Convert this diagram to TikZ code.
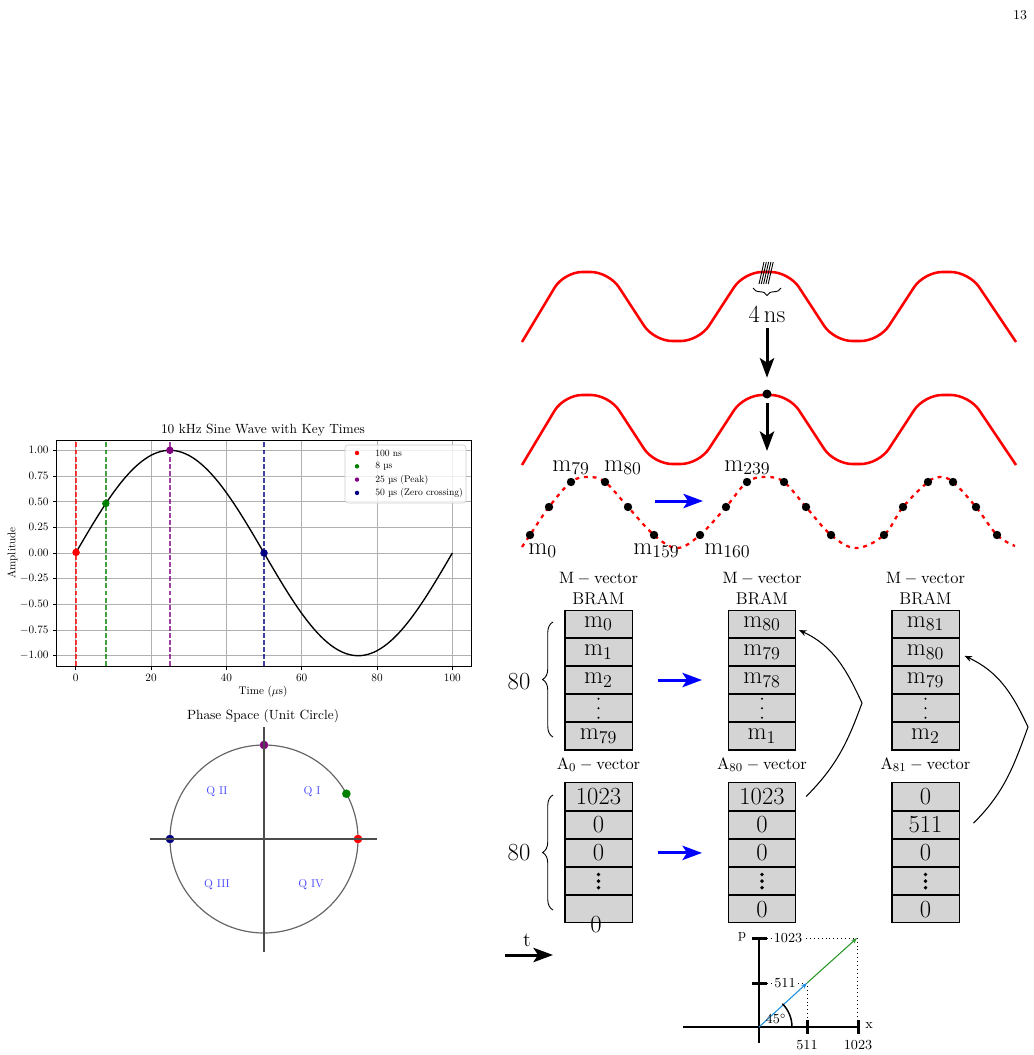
\documentclass[tikz,border=0pt]{standalone}
\usepackage{amsmath,amssymb}
\usepackage{xcolor}
\usepackage{tikz}
\usetikzlibrary{positioning,arrows.meta,decorations.pathreplacing,calc}

\definecolor{mplgreen}{RGB}{0,128,0}
\definecolor{mplpurple}{RGB}{128,0,128}
\definecolor{mplnavy}{RGB}{0,0,128}
\definecolor{vecblue}{RGB}{25,140,220}
\definecolor{vecgreen}{RGB}{40,150,40}
% matplotlib text: 10pt design, scaled down
\newcommand{\mpl}[2]{\scalebox{#1}{#2}}

\begin{document}
\begin{tikzpicture}[x=0.6667pt, y=0.6667pt,
    every node/.style={font=\fontsize{11.4}{14}\selectfont},
    cell/.style={draw, line width=0.7pt, fill=black!17, minimum width=44.7pt, minimum height=18.1pt, inner sep=0pt, font=\fontsize{16.4}{19}\selectfont},
    coltitle/.style={align=center, inner sep=1pt},
    bigtxt/.style={font=\fontsize{16.4}{19}\selectfont},
    smalltxt/.style={font=\fontsize{9.2}{11}\selectfont, inner sep=1pt},
    wave/.style={red, line width=1.7pt, rounded corners=12pt},
    dashwave/.style={red, line width=1.5pt, dash pattern=on 2.6pt off 3.2pt},
    peakdot/.style={circle, fill=black, inner sep=0pt, minimum size=6pt},
    downarrow/.style={-{Stealth[length=13pt,width=9.5pt,inset=3pt]}, line width=2pt},
    bluearrow/.style={downarrow, blue},
    backarrow/.style={-{Stealth[length=5pt,width=4pt]}, line width=0.7pt},
    vbrace/.style={decorate, decoration={brace, amplitude=7pt}, line width=0.6pt},
    vecarrow/.style={-{Stealth[length=4pt,width=3pt]}, line width=0.7pt},
    gridline/.style={black!31, line width=0.6pt},
    keyline/.style={line width=0.9pt, dash pattern=on 3.3pt off 1.4pt, opacity=0.75},
    tickmark/.style={line width=0.6pt},
    mpltxt/.style={font=\fontsize{10}{12}\selectfont, inner sep=0pt},
    quadtxt/.style={mpltxt, text=blue!70},
]
\useasboundingbox (0,0) rectangle (1034,-1055);

\node[font=\fontsize{9}{11}\selectfont] (pagenum) at (1020,-15) {13};

% ---------------- sine wave plot
\begin{scope}[shift={(75.7,-553)}, x=2.511pt, y=68.47pt]
  \foreach \t in {0,20,...,100} \draw[gridline] (\t,-1.1) -- (\t,1.1);
  \foreach \a in {-1,-0.75,-0.5,-0.25,0,0.25,0.5,0.75,1} \draw[gridline] (-5,\a) -- (105,\a);
  \foreach \t/\c in {0.1/red, 8/mplgreen, 25/mplpurple, 50/mplnavy}
    \draw[keyline, \c] (\t,-1.1) -- (\t,1.1);
  \draw[line width=0.9pt] plot[domain=0:100, samples=121] (\x,{sin(3.6*\x)});
  \foreach \t/\c in {0.1/red, 8/mplgreen, 25/mplpurple, 50/mplnavy}
    \fill[\c] (\t,{sin(3.6*\t)}) circle[radius=2.5pt];
  \draw[line width=0.6pt] (-5,-1.1) rectangle (105,1.1);
  \foreach \t in {0,20,...,100} {
    \draw[tickmark] (\t,-1.1) -- ++(0pt,-2.6pt);
    \node[mpltxt, anchor=north, yshift=-5pt] (xt\t) at (\t,-1.1) {\mpl{0.75}{$\t$}};
  }
  \foreach \a/\lab [count=\i] in {1/1.00, 0.75/0.75, 0.5/0.50, 0.25/0.25, 0/0.00, -0.25/-0.25, -0.5/-0.50, -0.75/-0.75, -1/-1.00} {
    \draw[tickmark] (-5,\a) -- ++(-2.6pt,0pt);
    \node[mpltxt, anchor=east, xshift=-5.3pt] (yt\i) at (-5,\a) {\mpl{0.75}{$\lab$}};
  }
\end{scope}
\node[mpltxt] (sinetitle) at (263,-430.5) {\mpl{0.89}{10 kHz Sine Wave with Key Times}};
\node[mpltxt] (timelab) at (263,-691.5) {\mpl{0.74}{Time ($\mu$s)}};
\node[mpltxt, rotate=90] (amplab) at (12.5,-553) {\mpl{0.74}{Amplitude}};

% legend
\draw[rounded corners=2pt, draw=black!20, fill=white, fill opacity=0.8] (345,-445) rectangle (466,-503);
\foreach \c/\txt [count=\i] in {red/100 ns, mplgreen/8 \textmu s, mplpurple/25 \textmu s (Peak), mplnavy/50 \textmu s (Zero crossing)} {
  \fill[\c] (357,{-453-13.3*(\i-1)}) circle[radius=2.2];
  \node[mpltxt, anchor=west] (leg\i) at (375,{-453-13.3*(\i-1)}) {\mpl{0.64}{\txt}};
}

% ---------------- unit circle
\node[mpltxt] (circtitle) at (263,-716.5) {\mpl{0.89}{Phase Space (Unit Circle)}};
\begin{scope}[shift={(264,-839)}]
  \draw[black!60, line width=0.8pt] (0,0) circle[radius=94];
  \fill[red] (0:94) circle[radius=4.3];
  \fill[mplgreen] (28.8:94) circle[radius=4.3];
  \fill[mplpurple] (90:94) circle[radius=4.3];
  \fill[mplnavy] (180:94) circle[radius=4.3];
  \draw[black!70, line width=0.8pt] (-114,0) -- (113,0);
  \draw[black!70, line width=0.8pt] (0,112) -- (0,-113);
  \node[quadtxt] (q1) at (48,47) {\mpl{0.76}{Q I}};
  \node[quadtxt] (q2) at (-47,47) {\mpl{0.76}{Q II}};
  \node[quadtxt] (q3) at (-47,-46) {\mpl{0.76}{Q III}};
  \node[quadtxt] (q4) at (47,-46) {\mpl{0.76}{Q IV}};
\end{scope}

% ---------------- carrier waves
\foreach \dy in {0,-123}
  \draw[wave, shift={(0,\dy)}] (522,-342) -- (564,-272) -- (609,-272) -- (654,-341) -- (699,-341)
    -- (744,-272) -- (789,-272) -- (834,-341) -- (879,-341) -- (924,-272) -- (969,-272) -- (1016,-342);

% 4 ns samples
\foreach \i in {0,...,4} \draw[line width=0.6pt] (759+2.3*\i,-284) -- (764+2.3*\i,-262);
\draw[decorate, decoration={brace, mirror, amplitude=5pt}, line width=0.6pt] (753,-288) -- (781,-288);
\node[bigtxt] (tns) at (767,-314) {4\,ns};
\node[peakdot] (pk) at (767,-394) {};
\coordinate (s239) at (767,-451);
\draw[downarrow, shorten >=7.7pt] (tns) -- (pk);
\draw[downarrow, shorten <=3pt] (pk) -- (s239);

% sampled wave
\draw[dashwave] plot[smooth, tension=0.6] coordinates {(522,-547) (530,-535) (549,-507) (571,-482) (588,-477)
  (605,-482) (628,-507) (654,-535) (677,-548) (700,-535) (726,-507) (747,-482) (766,-477) (784,-482)
  (806,-507) (831,-535) (856,-548) (884,-535) (903,-507) (928,-482) (940,-477) (953,-482) (976,-507)
  (997,-535) (1015,-546)};
\foreach \p in {(530,-535),(549,-507),(571,-482),(605,-482),(628,-507),(654,-535),
                (700,-535),(726,-507),(747,-482),(784,-482),(806,-507),(831,-535),
                (884,-535),(903,-507),(928,-482),(953,-482),(976,-507),(997,-535)}
  \fill \p circle[radius=4.2];
\node[bigtxt, anchor=base west, inner sep=0pt] (lab0) at (528,-554) {m$_{0}$};
\node[bigtxt, anchor=base west, inner sep=0pt] (lab79) at (552,-471) {m$_{79}$};
\node[bigtxt, anchor=base west, inner sep=0pt] (lab80) at (604,-471) {m$_{80}$};
\node[bigtxt, anchor=base west, inner sep=0pt] (lab239) at (724,-471) {m$_{239}$};
\node[bigtxt, anchor=base west, inner sep=0pt] (lab159) at (633,-554) {m$_{159}$};
\node[bigtxt, anchor=base west, inner sep=0pt] (lab160) at (704,-554) {m$_{160}$};
\coordinate (wa) at (655,-501);
\coordinate (wb) at (703,-501);
\draw[bluearrow] (wa) -- (wb);

% ---------------- M-vector BRAM columns
\foreach \n/\cx/\ra/\rb/\rc/\re in {0/598.5/0/1/2/79, 80/762/80/79/78/1, 81/925.5/81/80/79/2} {
  \node[cell] (M\n-1) at (\cx,-623.6) {m$_{\ra}$};
  \node[cell, below=0pt of M\n-1] (M\n-2) {m$_{\rb}$};
  \node[cell, below=0pt of M\n-2] (M\n-3) {m$_{\rc}$};
  \node[cell, below=0pt of M\n-3] (M\n-4) {};
  \node[cell, below=0pt of M\n-4] (M\n-5) {m$_{\re}$};
  \node[coltitle, above=2pt of M\n-1] (Mt\n) {$\mathrm{M-vector}$\\BRAM};
  \foreach \k in {-1,0,1} \fill ([yshift=\k*6.3pt]M\n-4.center) circle[radius=0.75pt];
}

% ---------------- A-vector columns
\foreach \n/\cx/\ra/\rb/\rc/\re in {0/598.5/1023/0/0/{}, 80/762/1023/0/0/0, 81/925.5/0/511/0/0} {
  \node[cell] (A\n-1) at (\cx,-796.5) {\ra};
  \node[cell, below=0pt of A\n-1] (A\n-2) {\rb};
  \node[cell, below=0pt of A\n-2] (A\n-3) {\rc};
  \node[cell, below=0pt of A\n-3] (A\n-4) {};
  \node[cell, below=0pt of A\n-4] (A\n-5) {\re};
  \node[coltitle, above=6pt of A\n-1] (At\n) {$\mathrm{A_{\n}-vector}$};
  \foreach \k in {-1,0,1} \fill ([yshift=\k*4.4pt]A\n-4.center) circle[radius=1.3pt];
}
\node[bigtxt, inner sep=0pt] (azero) at (596,-925) {0};

% braces
\draw[vbrace] (553,-737) -- (553,-622);
\node[bigtxt] (cnt1) at (519,-682) {80};
\draw[vbrace] (553,-910) -- (553,-795);
\node[bigtxt] (cnt2) at (519,-853) {80};

% shifts
\draw[bluearrow, shorten <=16.7pt, shorten >=17.3pt] (M0-3) -- (M80-3);
\draw[bluearrow, shorten <=16.7pt, shorten >=17.3pt] (A0-3) -- (A80-3);

% write back
\coordinate (k1) at (862,-703);
\coordinate (k2) at (1028,-727);
\draw[backarrow] ([xshift=6.7pt]A80-1.east) to[out=45,in=-110] (k1) to[out=115,in=-25] ([xshift=2pt,yshift=-4.3pt]M80-1.east);
\draw[backarrow] ([xshift=9.3pt,yshift=1pt]A81-2.east) to[out=45,in=-110] (k2) to[out=115,in=-25] ([xshift=3.3pt,yshift=-2.7pt]M81-2.east);

% time arrow
\coordinate (ta) at (505,-955);
\coordinate (tb) at (553,-955);
\draw[downarrow] (ta) -- (tb);
\node[font=\fontsize{13.7}{16}\selectfont] (tlab) at (527,-940) {t};

% ---------------- phase mapping graph
\coordinate (O) at (759,-1027);
\coordinate (P1) at (807,-983);
\coordinate (P2) at (857,-938);
\draw[line width=1pt] (683,-1027) -- (858,-1027);
\draw[line width=1pt] (759,-1043) -- (759,-938);
\draw[dotted, line width=0.6pt] (767,-938) -- (P2) -- (857,-1020);
\draw[dotted, line width=0.6pt] (767,-983) -- (P1) -- (807,-1020);
\draw[line width=2pt] (807,-1020) -- (807,-1034);
\draw[line width=2pt] (858,-1020) -- (858,-1034);
\draw[line width=2pt] (752,-938) -- (767,-938);
\draw[line width=2pt] (752,-983) -- (767,-983);
\draw[vecarrow, vecblue] (O) -- (P1);
\draw[vecarrow, vecgreen] (P1) -- (P2);
\draw[line width=1pt] (792,-1027) arc[start angle=0, end angle=45, radius=33];
\node[smalltxt, fill=white] (py1023) at (788,-938) {1023};
\node[smalltxt, fill=white] (py511) at (785,-983) {511};
\node[smalltxt] (px511) at (807,-1045) {511};
\node[smalltxt] (px1023) at (858,-1045) {1023};
\node[smalltxt] (xlab) at (869,-1026) {x};
\node[smalltxt] (plab) at (742,-937) {p};
\node[smalltxt] (ang) at (776,-1019) {45$^\circ$};
\end{tikzpicture}
\end{document}
